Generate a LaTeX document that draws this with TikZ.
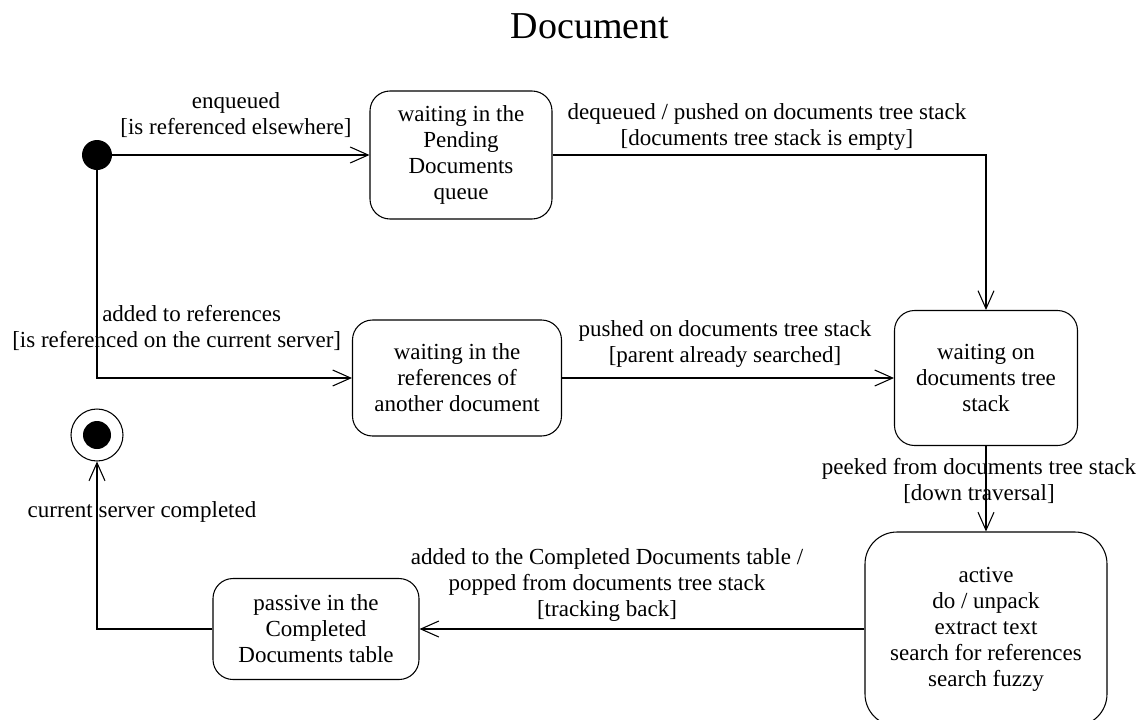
\documentclass[tikz,border=0pt]{standalone}
\usepackage{fontspec}
\setmainfont{Liberation Serif}
\usetikzlibrary{arrows.meta}
\begin{document}
\begin{tikzpicture}[x=0.75pt,y=-0.75pt,
  txt/.style={font=\fontsize{17.25pt}{19.5pt}\selectfont, align=center, inner sep=0pt},
  state/.style={txt, draw, line width=0.8pt, rounded corners=15pt},
  flow/.style={line width=1.1pt, -{Straight Barb[length=13.5pt,width=12pt,line width=0.8pt]}},
]
% canvas
\path[use as bounding box, fill=white] (0,0) rectangle (1146,719);

% title
\node[font=\fontsize{28.5pt}{32pt}\selectfont, anchor=base] (title) at (590,38) {Document};

% pseudo states
\node[circle, fill=black, minimum size=22.5pt, inner sep=0pt] (init) at (97,155) {};
\node[circle, draw, line width=0.8pt, minimum size=39pt, inner sep=0pt,
      path picture={\fill (path picture bounding box.center) circle (10.5pt);}] (final) at (97,435) {};

% states
\node[state, minimum width=136.5pt, minimum height=96pt] (pend) at (461,155)
  {waiting in the\\Pending\\Documents\\queue};
\node[state, minimum width=156.75pt, minimum height=87pt] (refs) at (457,378)
  {waiting in the\\references of\\another document};
\node[state, minimum width=137.25pt, minimum height=101.25pt] (stack) at (986,378)
  {waiting on\\documents tree\\stack};
\node[state, rounded corners=24pt, minimum width=181.5pt, minimum height=145.5pt] (active) at (986,629)
  {active\\do / unpack\\extract text\\search for references\\search fuzzy};
\node[state, minimum width=154.5pt, minimum height=75.75pt] (passive) at (316,629)
  {passive in the\\Completed\\Documents table};

% transitions
\draw[flow] (init) -- (pend);
\draw[flow] (pend) -| (stack);
\draw[flow] (init) |- (refs);
\draw[flow] (refs) -- (stack);
\draw[flow] (stack) -- (active);
\draw[flow] (active) -- (passive);
\draw[flow] (passive) -| (final);

% transition labels
\node[txt] (l1) at (236,115) {enqueued\\{[}is referenced elsewhere{]}};
\node[txt] (l2) at (767,127) {dequeued / pushed on documents tree stack\\{[}documents tree stack is empty{]}};
\node[txt, align=left, anchor=west] (l3) at (12,328)
  {\hspace*{67.5pt}added to references\\{[}is referenced on the current server{]}};
\node[txt] (l4) at (725,344) {pushed on documents tree stack\\{[}parent already searched{]}};
\node[txt] (l5) at (979,481) {peeked from documents tree stack\\{[}down traversal{]}};
\node[txt] (l6) at (607,585) {added to the Completed Documents table /\\popped from documents tree stack\\{[}tracking back{]}};
\node[txt] (l7) at (142,512) {current server completed};
\end{tikzpicture}
\end{document}
